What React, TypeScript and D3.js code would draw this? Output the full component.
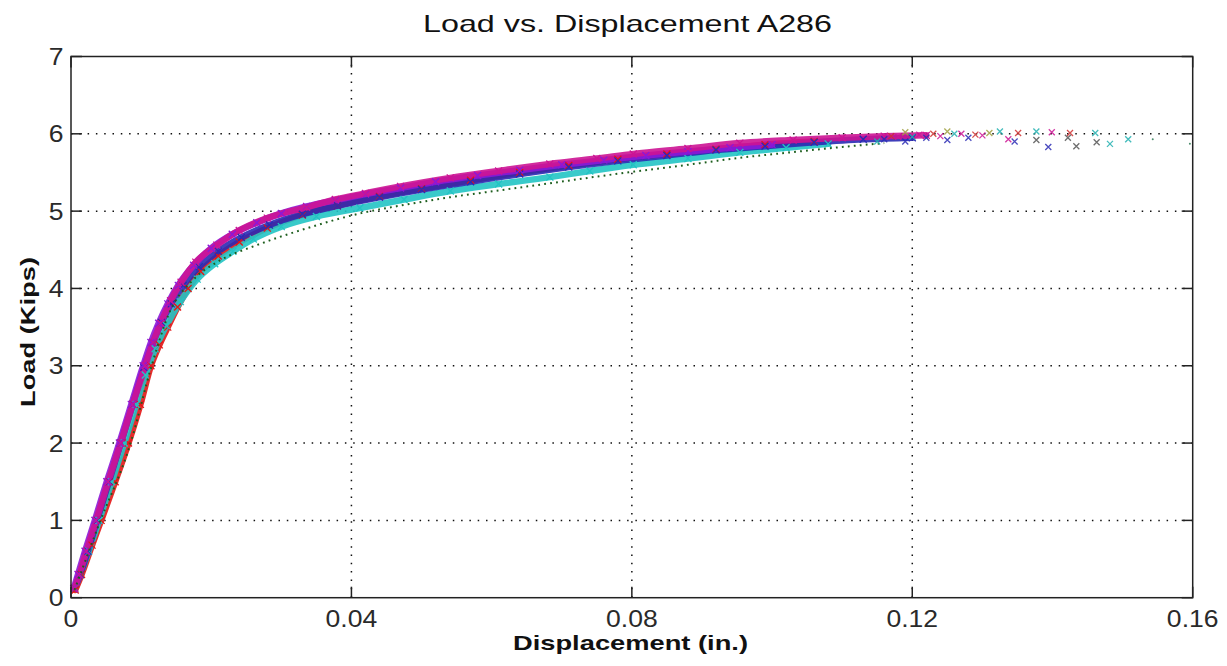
import React from 'react';
import * as d3 from 'd3';

// ---- axes / labels ----
const xTicks = [0, 0.04, 0.08, 0.12, 0.16];
const xTickLabels = ['0', '0.04', '0.08', '0.12', '0.16'];
const yTicks = [0, 1, 2, 3, 4, 5, 6, 7];
const yTickLabels = ['0', '1', '2', '3', '4', '5', '6', '7'];
const titleText = 'Load vs. Displacement A286';
const xLabel = 'Displacement (in.)';
const yLabel = 'Load (Kips)';

// ---- series (displacement in., load kips) ----
const redDisp = [0.0006, 0.0015, 0.003, 0.0043, 0.0063, 0.0082, 0.0099, 0.0114, 0.0126, 0.0138, 0.0152, 0.0167, 0.0185, 0.021, 0.024, 0.028, 0.033, 0.038, 0.044, 0.05, 0.057, 0.064, 0.071, 0.078, 0.085, 0.092, 0.099, 0.106];
const redLoad = [0.1, 0.3, 0.68, 1.0, 1.5, 2.0, 2.5, 3.0, 3.27, 3.5, 3.76, 4.0, 4.22, 4.42, 4.6, 4.78, 4.95, 5.07, 5.19, 5.29, 5.4, 5.5, 5.59, 5.67, 5.74, 5.8, 5.86, 5.9];

const cyanDisp = [0.0005, 0.0013, 0.0025, 0.004, 0.0058, 0.0076, 0.0093, 0.0106, 0.012, 0.0136, 0.0156, 0.018, 0.0205, 0.0231, 0.026, 0.03, 0.035, 0.0412, 0.0475, 0.0541, 0.061, 0.0683, 0.074, 0.0802, 0.088, 0.0954, 0.102, 0.108];
const cyanLoad = [0.12, 0.3, 0.6, 1.0, 1.5, 2.0, 2.5, 2.88, 3.22, 3.52, 3.83, 4.12, 4.32, 4.48, 4.64, 4.8, 4.93, 5.04, 5.15, 5.26, 5.35, 5.44, 5.52, 5.6, 5.68, 5.76, 5.82, 5.87];

const blueDisp = [0.0005, 0.0013, 0.0024, 0.0037, 0.0054, 0.0071, 0.0088, 0.0104, 0.0117, 0.0129, 0.0143, 0.016, 0.0183, 0.021, 0.0243, 0.0283, 0.033, 0.038, 0.044, 0.05, 0.057, 0.064, 0.071, 0.078, 0.085, 0.092, 0.099, 0.106, 0.113, 0.12];
const blueLoad = [0.12, 0.3, 0.6, 1.0, 1.5, 2.0, 2.5, 2.98, 3.3, 3.56, 3.8, 4.04, 4.28, 4.48, 4.66, 4.82, 4.96, 5.07, 5.18, 5.28, 5.38, 5.48, 5.57, 5.65, 5.72, 5.79, 5.84, 5.89, 5.93, 5.95];

const purpleDisp = [0.0004, 0.001, 0.002, 0.0034, 0.0051, 0.0069, 0.0086, 0.0103, 0.0114, 0.0125, 0.0138, 0.0153, 0.0175, 0.02, 0.023, 0.0265, 0.03, 0.0336, 0.0377, 0.042, 0.047, 0.052, 0.058, 0.064, 0.07, 0.076, 0.082, 0.088, 0.094, 0.1];
const purpleLoad = [0.12, 0.3, 0.6, 1.0, 1.5, 2.0, 2.5, 3.0, 3.3, 3.55, 3.8, 4.04, 4.3, 4.52, 4.7, 4.85, 4.97, 5.06, 5.14, 5.22, 5.3, 5.38, 5.46, 5.53, 5.6, 5.66, 5.72, 5.77, 5.82, 5.86];

const magentaDisp = [0.0005, 0.0012, 0.0022, 0.0036, 0.0053, 0.0071, 0.0088, 0.0106, 0.0117, 0.0128, 0.0142, 0.0157, 0.0178, 0.0208, 0.024, 0.028, 0.0336, 0.0377, 0.042, 0.047, 0.0541, 0.061, 0.0683, 0.075, 0.0802, 0.088, 0.0954, 0.103, 0.11, 0.116, 0.122];
const magentaLoad = [0.12, 0.3, 0.6, 1.0, 1.5, 2.0, 2.5, 3.0, 3.3, 3.55, 3.84, 4.08, 4.34, 4.56, 4.75, 4.91, 5.05, 5.15, 5.23, 5.32, 5.43, 5.52, 5.61, 5.68, 5.74, 5.81, 5.88, 5.92, 5.95, 5.97, 5.98];

const greenDisp = [0.0005, 0.004, 0.0085, 0.0115, 0.014, 0.0174, 0.021, 0.0265, 0.033, 0.0412, 0.0475, 0.0541, 0.0612, 0.0683, 0.0745, 0.0802, 0.088, 0.0954, 0.1026, 0.11, 0.116];
const greenLoad = [0.1, 0.95, 2.0, 3.0, 3.68, 4.11, 4.35, 4.56, 4.76, 4.97, 5.08, 5.18, 5.27, 5.36, 5.44, 5.51, 5.6, 5.69, 5.76, 5.83, 5.88];

// sparse markers at the end of the tests
const tailMagentaDisp = [0.118, 0.121, 0.124, 0.127, 0.13, 0.1337, 0.1399];
const tailMagentaLoad = [5.96, 5.99, 5.97, 6.0, 5.98, 5.93, 6.02];
const tailBlueDisp = [0.116, 0.119, 0.122, 0.125, 0.128, 0.1346, 0.1394];
const tailBlueLoad = [5.93, 5.9, 5.95, 5.92, 5.95, 5.9, 5.83];
const tailCyanDisp = [0.115, 0.12, 0.126, 0.1325, 0.1377, 0.1461, 0.1482, 0.1508];
const tailCyanLoad = [5.9, 5.96, 6.0, 6.03, 6.03, 6.01, 5.87, 5.93];
const tailRedDisp = [0.117, 0.123, 0.129, 0.1351, 0.1425];
const tailRedLoad = [5.97, 6.0, 5.99, 6.01, 6.01];
const tailGreyDisp = [0.1377, 0.1422, 0.1434, 0.1463];
const tailGreyLoad = [5.92, 5.95, 5.84, 5.89];
const tailOliveDisp = [0.119, 0.125, 0.131];
const tailOliveLoad = [6.02, 6.03, 6.01];
const tailDotDisp = [0.1543, 0.1596];
const tailDotLoad = [5.93, 5.87];

type Pt = [number, number];
const zip = (a: number[], b: number[]): Pt[] => a.map((v, i) => [v, b[i]]);

const bands = [
  { color: '#e31515', pts: zip(redDisp, redLoad) },
  { color: '#22c4c4', pts: zip(cyanDisp, cyanLoad) },
  { color: '#2a2ab4', pts: zip(blueDisp, blueLoad) },
  { color: '#8c18d8', pts: zip(purpleDisp, purpleLoad) },
  { color: '#cc1494', pts: zip(magentaDisp, magentaLoad) },
];

const tails = [
  { color: '#cc1494', pts: zip(tailMagentaDisp, tailMagentaLoad) },
  { color: '#2a2ab4', pts: zip(tailBlueDisp, tailBlueLoad) },
  { color: '#22b0b0', pts: zip(tailCyanDisp, tailCyanLoad) },
  { color: '#d03030', pts: zip(tailRedDisp, tailRedLoad) },
  { color: '#555555', pts: zip(tailGreyDisp, tailGreyLoad) },
  { color: '#a0a040', pts: zip(tailOliveDisp, tailOliveLoad) },
];

export default function App() {
  const W = 1227, H = 666;
  const left = 71, right = 1192.7, top = 56.5, bottom = 597.7;
  const x = d3.scaleLinear().domain([0, 0.16]).range([left, right]);
  const y = d3.scaleLinear().domain([0, 7]).range([bottom, top]);
  const line = d3.line<Pt>().x(d => x(d[0])).y(d => y(d[1])).curve(d3.curveMonotoneX);
  const green = zip(greenDisp, greenLoad);
  const font = '"Liberation Sans", Arial, sans-serif';
  const xMark = (cx: number, cy: number, s: number) =>
    `M${cx - s},${cy - s}L${cx + s},${cy + s}M${cx - s},${cy + s}L${cx + s},${cy - s}`;

  return (
    <svg width={W} height={H} style={{ position: 'absolute', left: 0, top: 0, background: '#fff' }}>
      <rect x={0} y={0} width={W} height={H} fill="#fff" />
      {/* grid */}
      {xTicks.slice(1, -1).map(t => (
        <line key={'gx' + t} x1={x(t)} x2={x(t)} y1={top} y2={bottom} stroke="#111" strokeWidth={1.5} strokeDasharray="1.5 6.8" />
      ))}
      {yTicks.slice(1, -1).map(t => (
        <line key={'gy' + t} x1={left} x2={right} y1={y(t)} y2={y(t)} stroke="#111" strokeWidth={1.5} strokeDasharray="1.5 6.8" />
      ))}
      {/* bands */}
      {bands.map((b, i) => (
        <path key={'b' + i} d={line(b.pts) || ''} fill="none" stroke={b.color} strokeWidth={6.5} strokeLinecap="round" strokeLinejoin="round" opacity={0.9} />
      ))}
      {bands.map((b, i) => (
        <g key={'bm' + i}>
          {b.pts.map((p, j) => (
            <path key={j} d={xMark(x(p[0]), y(p[1]), 3.5)} stroke={b.color} strokeWidth={1.3} fill="none" />
          ))}
        </g>
      ))}
      {/* green dotted */}
      <path d={line(green) || ''} fill="none" stroke="#1e5e1e" strokeWidth={2} strokeDasharray="1.8 4.2" />
      {/* tail markers */}
      {tails.map((t, i) => (
        <g key={'t' + i}>
          {t.pts.map((p, j) => (
            <path key={j} d={xMark(x(p[0]), y(p[1]), 3)} stroke={t.color} strokeWidth={1.3} fill="none" opacity={0.85} />
          ))}
        </g>
      ))}
      {zip(tailDotDisp, tailDotLoad).map((p, j) => (
        <circle key={'d' + j} cx={x(p[0])} cy={y(p[1])} r={1} fill="#4a8a6a" />
      ))}
      {/* box */}
      <rect x={left} y={top} width={right - left} height={bottom - top} fill="none" stroke="#222" strokeWidth={1.5} />
      {/* ticks */}
      {xTicks.map(t => (
        <g key={'xt' + t}>
          <line x1={x(t)} x2={x(t)} y1={bottom} y2={bottom - 11} stroke="#222" strokeWidth={1.5} />
          <line x1={x(t)} x2={x(t)} y1={top} y2={top + 11} stroke="#222" strokeWidth={1.5} />
        </g>
      ))}
      {yTicks.map(t => (
        <g key={'yt' + t}>
          <line x1={left} x2={left + 11} y1={y(t)} y2={y(t)} stroke="#222" strokeWidth={1.5} />
          <line x1={right} x2={right - 11} y1={y(t)} y2={y(t)} stroke="#222" strokeWidth={1.5} />
        </g>
      ))}
      {/* tick labels */}
      {xTicks.map((t, i) => (
        <g key={'xl' + t} transform={`translate(${x(t)},627) scale(1.13,1)`}>
          <text x={0} y={0} textAnchor="middle" fontFamily={font} fontSize={23.5} fill="#2a2a2a">
            {xTickLabels[i]}
          </text>
        </g>
      ))}
      {yTicks.map((t, i) => (
        <g key={'yl' + t} transform={`translate(63.5,${y(t) + 8.5}) scale(1.13,1)`}>
          <text x={0} y={0} textAnchor="end" fontFamily={font} fontSize={23.5} fill="#2a2a2a">
            {yTickLabels[i]}
          </text>
        </g>
      ))}
      {/* title and axis labels */}
      <text x={627.5} y={32} textAnchor="middle" fontFamily={font} fontSize={24} fill="#111"
        textLength={409} lengthAdjust="spacingAndGlyphs">{titleText}</text>
      <text x={630.5} y={650} textAnchor="middle" fontFamily={font} fontSize={21} fontWeight="bold" fill="#111"
        textLength={235} lengthAdjust="spacingAndGlyphs">{xLabel}</text>
      <text transform={`translate(35, 332) rotate(-90)`} textAnchor="middle" fontFamily={font} fontSize={21} fontWeight="bold" fill="#111"
        textLength={150} lengthAdjust="spacingAndGlyphs">{yLabel}</text>
    </svg>
  );
}
